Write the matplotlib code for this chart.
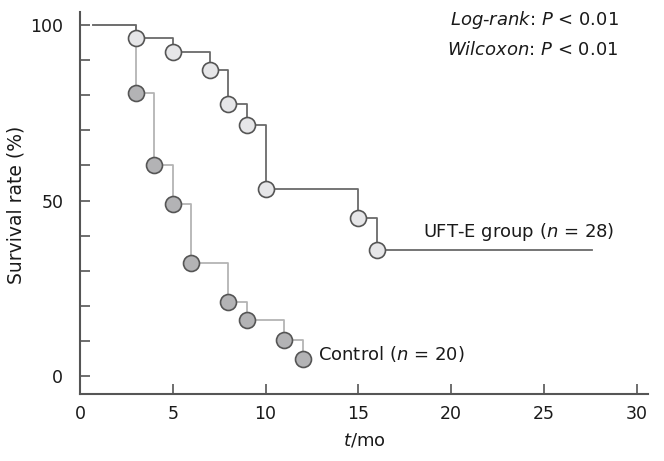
import matplotlib
matplotlib.use("Agg")
import matplotlib.pyplot as plt

plt.rcParams['font.family'] = ['DejaVu Sans']
plt.rcParams['mathtext.fontset'] = 'custom'
plt.rcParams['mathtext.it'] = 'DejaVu Sans:italic'
plt.rcParams['mathtext.rm'] = 'DejaVu Sans'

# UFT-E group (n = 28)
uft_start = 0.7
uft_end = 27.6
uft_times = [3, 5, 7, 8, 9, 10, 15, 16]
uft_surv = [96.4, 92.3, 87.3, 77.6, 71.5, 53.4, 45.0, 35.8]

# Control (n = 20)
ctl_times = [3, 4, 5, 6, 8, 9, 11, 12]
ctl_surv = [80.7, 60.2, 49.1, 32.1, 21.0, 16.0, 10.4, 4.8]

x_ticks = [0, 5, 10, 15, 20, 25, 30]
y_major = [0, 50, 100]
y_minor = [10, 20, 30, 40, 60, 70, 80, 90]

fig = plt.figure(figsize=(6.64, 4.61), dpi=100)
ax = fig.add_axes([80/664, 1-394/461, (648-80)/664, (394-12)/461])

axis_col = '#555555'
uft_line = '#6a6a6a'
ctl_line = '#b4b4b4'
txt_col = '#1a1a1a'

# Control step line
cx = [uft_start] + ctl_times
cy = [100] + ctl_surv
ax.step(cx, cy, where='post', color=ctl_line, lw=1.3, zorder=2)
# UFT step line
ux = [uft_start] + uft_times + [uft_end]
uy = [100] + uft_surv + [uft_surv[-1]]
ax.step(ux, uy, where='post', color=uft_line, lw=1.3, zorder=3)

ax.plot(ctl_times, ctl_surv, 'o', ms=11.5, mfc='#b3b3b5', mec='#555555', mew=1.2, zorder=4)
ax.plot(uft_times, uft_surv, 'o', ms=11.5, mfc='#e6e6e8', mec='#555555', mew=1.2, zorder=5)

ax.set_xlim(0, 30.6)
ax.set_ylim(-5.1, 103.7)
ax.set_xticks(x_ticks)
ax.set_yticks(y_major)
ax.set_yticks(y_minor, minor=True)

for s in ['top', 'right']:
    ax.spines[s].set_visible(False)
for s in ['left', 'bottom']:
    ax.spines[s].set_color(axis_col)
    ax.spines[s].set_linewidth(1.5)

ax.tick_params(axis='both', which='both', direction='in', color=axis_col, width=1.2,
               labelsize=12.5, labelcolor=txt_col)
ax.tick_params(axis='y', which='both', length=7, pad=12)
ax.tick_params(axis='x', which='major', length=7, pad=8)

ax.set_ylabel('Survival rate (%)', fontsize=13.5, color=txt_col)
ax.yaxis.set_label_coords(-(80 - 26) / 568.0, (394 - 205) / 382.0)
ax.set_xlabel('$t$/mo', fontsize=13, color=txt_col, labelpad=6)

ax.text(29.0, 101.4, r'$\mathit{Log}$-$\mathit{rank}$: $\mathit{P}$ < 0.01', ha='right', va='center',
        fontsize=13, color=txt_col)
ax.text(29.0, 92.9, r'$\mathit{Wilcoxon}$: $\mathit{P}$ < 0.01', ha='right', va='center',
        fontsize=13, color=txt_col)
ax.text(18.5, 41.0, r'UFT-E group ($\mathit{n}$ = 28)', ha='left', va='center',
        fontsize=13, color=txt_col)
ax.text(12.8, 6.3, r'Control ($\mathit{n}$ = 20)', ha='left', va='center',
        fontsize=13, color=txt_col)

fig.savefig('out.png', dpi=100)
